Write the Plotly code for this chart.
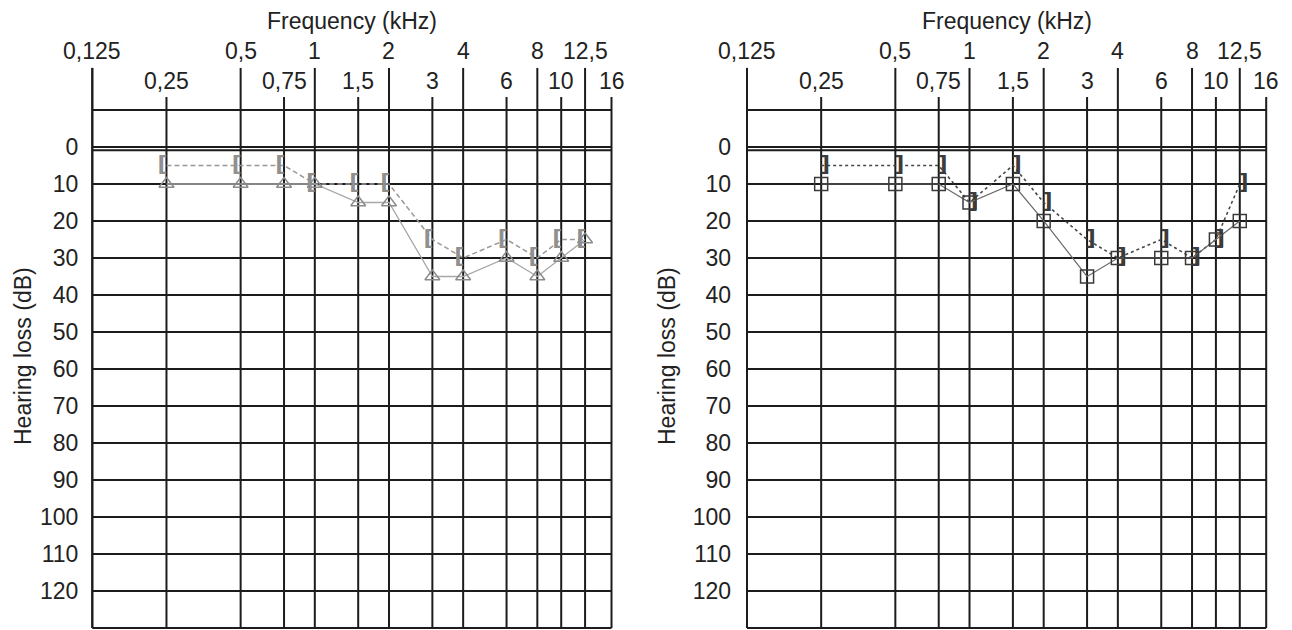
import math
import plotly.graph_objects as go

# ---------------- data ----------------
freqs = [0.25, 0.5, 0.75, 1, 1.5, 2, 3, 4, 6, 8, 10, 12.5]
left_dashed = [5, 5, 5, 10, 10, 10, 25, 30, 25, 30, 25, 25]      # "[" symbols
left_solid = [10, 10, 10, 10, 15, 15, 35, 35, 30, 35, 30, 25]    # triangles
right_dashed = [5, 5, 5, 15, 5, 15, 25, 30, 25, 30, 25, 10]      # "]" symbols
right_solid = [10, 10, 10, 15, 10, 20, 35, 30, 30, 30, 25, 20]   # squares

row1_freqs = [0.125, 0.5, 1, 2, 4, 8, 12.5]
row1_labels = ["0,125", "0,5", "1", "2", "4", "8", "12,5"]
row2_freqs = [0.25, 0.75, 1.5, 3, 6, 10, 16]
row2_labels = ["0,25", "0,75", "1,5", "3", "6", "10", "16"]
db_ticks = list(range(0, 130, 10))
db_labels = [str(v) for v in db_ticks]
grid_levels = [-10, 0, 0.9] + list(range(10, 140, 10))

x_title = "Frequency (kHz)"
y_title = "Hearing loss (dB)"

# ---------------- layout helpers ----------------
W, H = 1292, 630
FONT = "Liberation Sans, Arial, sans-serif"
GRID = "#1c1c1c"
NBSP = "\u00a0"

def px_x(p):
    return p / W

def px_y(p):
    return (H - p) / H

Y_RANGE = [130.4, -21.4]
TALL_TOP, SHORT_TOP, BOTTOM = -21.4, -13.5, 130

fig = go.Figure()

def add_grid(xa, ya):
    xs, ys = [], []
    for f in row1_freqs + [0.125]:
        xs += [f, f, None]; ys += [TALL_TOP, BOTTOM, None]
    for f in row2_freqs:
        xs += [f, f, None]; ys += [SHORT_TOP, BOTTOM, None]
    for lv in grid_levels:
        xs += [0.125, 16, None]; ys += [lv, lv, None]
    fig.add_trace(go.Scatter(x=xs, y=ys, mode="lines", xaxis=xa, yaxis=ya,
                             line=dict(color=GRID, width=2), hoverinfo="skip",
                             showlegend=False))

add_grid("x", "y")
add_grid("x2", "y2")

# left chart data
fig.add_trace(go.Scatter(x=freqs, y=left_solid, mode="lines+markers", xaxis="x", yaxis="y",
                         line=dict(color="#a8a8a8", width=1.3),
                         marker=dict(symbol="triangle-up-open", size=13, color="#8a8a8a",
                                     line=dict(width=1.4, color="#8a8a8a")),
                         showlegend=False))
fig.add_trace(go.Scatter(x=freqs, y=left_dashed, mode="lines+text", xaxis="x", yaxis="y",
                         line=dict(color="#999999", width=1.5, dash="5px,3px"),
                         text=["[" + NBSP] * len(freqs), textposition="middle center",
                         textfont=dict(family="DejaVu Sans", size=22, color="#8f8f8f",
                                       weight="bold"),
                         opacity=0.99, showlegend=False))

# right chart data
fig.add_trace(go.Scatter(x=freqs, y=right_dashed, mode="lines+text", xaxis="x2", yaxis="y2",
                         line=dict(color="#444444", width=1.6, dash="3px,3px"),
                         text=[NBSP + "]"] * len(freqs), textposition="middle center",
                         textfont=dict(family="DejaVu Sans", size=22, color="#3a3a3a",
                                       weight="bold"),
                         opacity=0.99, showlegend=False))
fig.add_trace(go.Scatter(x=freqs, y=right_solid, mode="lines+markers", xaxis="x2", yaxis="y2",
                         line=dict(color="#6a6a6a", width=1.2),
                         marker=dict(symbol="square-open", size=13, color="#3a3a3a",
                                     line=dict(width=1.5, color="#3a3a3a")),
                         showlegend=False))

pad = 2 * math.log10(2) / 74.2
x_range = [math.log10(0.125) - pad, math.log10(16) + pad]

axis_common = dict(type="log", range=x_range, showgrid=False, zeroline=False,
                   showline=False, showticklabels=False, ticks="", automargin=False)
yaxis_common = dict(range=Y_RANGE, showgrid=False, zeroline=False, showline=False,
                    tickvals=db_ticks, ticktext=db_labels, ticks="",
                    tickfont=dict(family=FONT, size=23, color="#222222"),
                    automargin=False)

ydom = [px_y(629.5), px_y(67.8)]

annotations = []
for xref, title_px in (("x", 23), ("x2", 667)):
    for f, lab in zip(row1_freqs, row1_labels):
        annotations.append(dict(x=math.log10(f), y=px_y(51), xref=xref, yref="paper",
                                text=lab, showarrow=False, xanchor="center", yanchor="middle",
                                font=dict(family=FONT, size=23, color="#222222")))
    for f, lab in zip(row2_freqs, row2_labels):
        annotations.append(dict(x=math.log10(f), y=px_y(81.5), xref=xref, yref="paper",
                                text=lab, showarrow=False, xanchor="center", yanchor="middle",
                                font=dict(family=FONT, size=23, color="#222222")))
    annotations.append(dict(x=math.log10(math.sqrt(0.125 * 16)), y=px_y(21), xref=xref,
                            yref="paper", text=x_title, showarrow=False,
                            xanchor="center", yanchor="middle",
                            font=dict(family=FONT, size=23, color="#222222")))
    annotations.append(dict(x=px_x(title_px), y=px_y(356), xref="paper", yref="paper",
                            text=y_title, showarrow=False, textangle=-90,
                            xanchor="center", yanchor="middle",
                            font=dict(family=FONT, size=23, color="#222222")))

fig.update_layout(
    width=W, height=H,
    margin=dict(l=0, r=0, t=0, b=0, pad=0),
    paper_bgcolor="white", plot_bgcolor="white",
    template="none",
    xaxis=dict(domain=[px_x(90.3), px_x(613.5)], anchor="y", **axis_common),
    yaxis=dict(domain=ydom, anchor="x", ticklabelstandoff=11, **yaxis_common),
    xaxis2=dict(domain=[px_x(745.0), px_x(1268.2)], anchor="y2", **axis_common),
    yaxis2=dict(domain=ydom, anchor="x2", ticklabelstandoff=13, **yaxis_common),
    annotations=annotations,
    showlegend=False,
)

fig.write_html("out.html", config={"displayModeBar": False},
               post_script="document.body.style.margin='0';document.body.style.overflow='hidden';")
